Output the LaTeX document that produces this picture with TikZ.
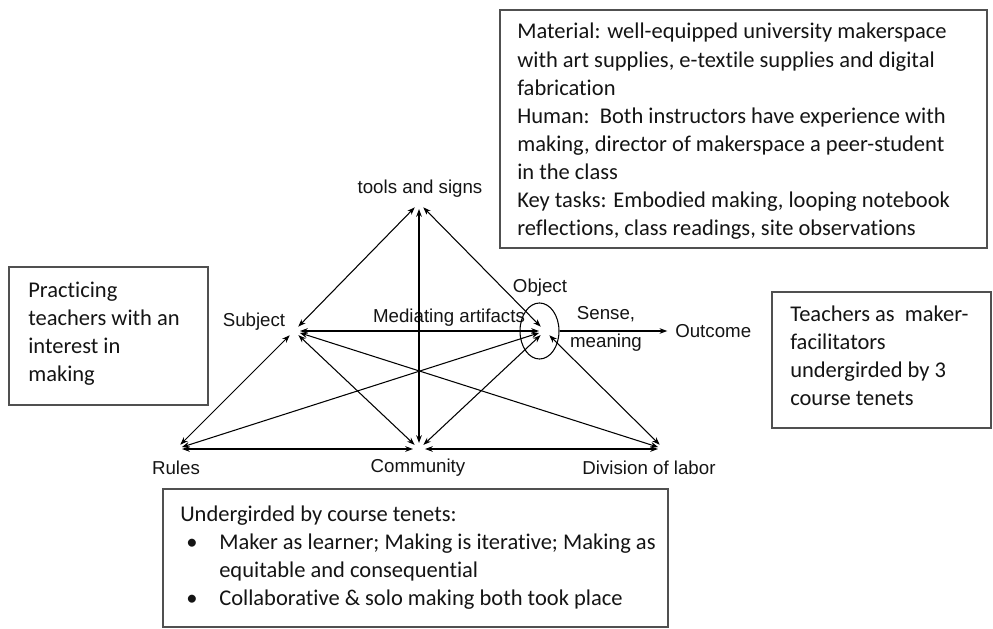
\documentclass[tikz,border=0pt]{standalone}
\usepackage{fontspec}
\newfontfamily\calib[Ligatures=NoCommon]{Carlito}
\newfontfamily\arialf{Liberation Sans}
\definecolor{boxline}{RGB}{80,80,80}
\definecolor{inkgray}{RGB}{20,20,20}
\usetikzlibrary{arrows.meta,shapes.geometric}

\begin{document}
\begin{tikzpicture}[x=0.025cm,y=-0.025cm,
  infobox/.style={draw=boxline,line width=1.4pt,inner sep=0pt},
  boxtext/.style={font=\calib\fontsize{16}{20}\selectfont,text=inkgray,align=left,inner sep=0pt,anchor=west},
  vlabel/.style={font=\arialf\fontsize{13.3}{19.9}\selectfont,text=inkgray,inner sep=0pt,align=center},
  link/.style={{Stealth[length=5.5pt,width=4pt]}-{Stealth[length=5.5pt,width=4pt]},line width=0.75pt,shorten <=4.3pt,shorten >=4.3pt}]
  \useasboundingbox (0,0) rectangle (993,629);
  % Activity triangle: corners
  \coordinate (tools) at (419,203);
  \coordinate (subj) at (294,331);
  \coordinate (obj) at (545,331);
  \coordinate (rules) at (176,449);
  \coordinate (comm) at (419,449);
  \coordinate (div) at (664,449);
  % Corner labels
  \node[vlabel] (toolslbl) at (420,189) {tools and signs};
  \node[vlabel] (subjlbl) at (254,322) {Subject};
  \node[vlabel] (objlbl) at (540,288) {Object};
  \node[vlabel] (medlbl) at (449,318) {Mediating artifacts};
  \node[vlabel] (senselbl) at (606,329) {Sense,\\meaning};
  \node[vlabel,anchor=west] (outlbl) at (675,331) {Outcome};
  \node[vlabel] (ruleslbl) at (176,468) {Rules};
  \node[vlabel] (commlbl) at (418,468) {Community};
  \node[vlabel] (divlbl) at (649,468) {Division of labor};
  \node[draw,ellipse,line width=0.75pt,minimum width=0.975cm,minimum height=1.4cm,inner sep=0pt] (objring) at (539.5,331) {};
  % Links
  \draw[link] (tools) -- (subj);
  \draw[link] (tools) -- (comm);
  \draw[link] (tools) -- (obj);
  \draw[link] (subj) -- (obj);
  \draw[link] (subj) -- (rules);
  \draw[link] (subj) -- (comm);
  \draw[link] (subj) -- (div);
  \draw[link] (obj) -- (rules);
  \draw[link] (obj) -- (comm);
  \draw[link] (obj) -- (div);
  \draw[link] (rules) -- (comm);
  \draw[link] (comm) -- (div);
  \draw[-{Stealth[length=5.5pt,width=4pt]},line width=0.75pt,shorten >=5.5pt] (objring.east) -- (outlbl.west);
  % Box 1: Material / Human / Key tasks
  \node[infobox,minimum width=12.175cm,minimum height=5.95cm] (matbox) at (743.5,129) {};
  \node[boxtext] (mattext) at (517,131.5) {Material: well-equipped university makerspace\\with art supplies, e-textile supplies and digital\\fabrication\\Human:\ \ Both instructors have experience with\\making, director of makerspace a peer-student\\in the class\\Key tasks: Embodied making, looping notebook\\reflections, class readings, site observations};
  % Box 2: Subject
  \node[infobox,minimum width=4.975cm,minimum height=3.45cm] (subjbox) at (108.5,336) {};
  \node[boxtext] (subjtext) at (28,333.5) {Practicing\\teachers with an\\interest in\\making};
  % Box 3: Outcome
  \node[infobox,minimum width=5.475cm,minimum height=3.4cm] (outbox) at (881.5,360) {};
  \node[boxtext] (outtext) at (790,355.5) {Teachers as\ \ maker-\\facilitators\\undergirded by 3\\course tenets};
  % Box 4: course tenets
  \node[infobox,minimum width=12.625cm,minimum height=3.45cm] (tenetbox) at (415.5,558) {};
  \node[boxtext] (tenettext) at (180,557.5) {Undergirded by course tenets:\\\hspace*{0.15cm}\makebox[0.825cm][l]{\textbullet}Maker as learner; Making is iterative; Making as\\\hspace*{0.975cm}equitable and consequential\\\hspace*{0.15cm}\makebox[0.825cm][l]{\textbullet}Collaborative \& solo making both took place};
\end{tikzpicture}
\end{document}
